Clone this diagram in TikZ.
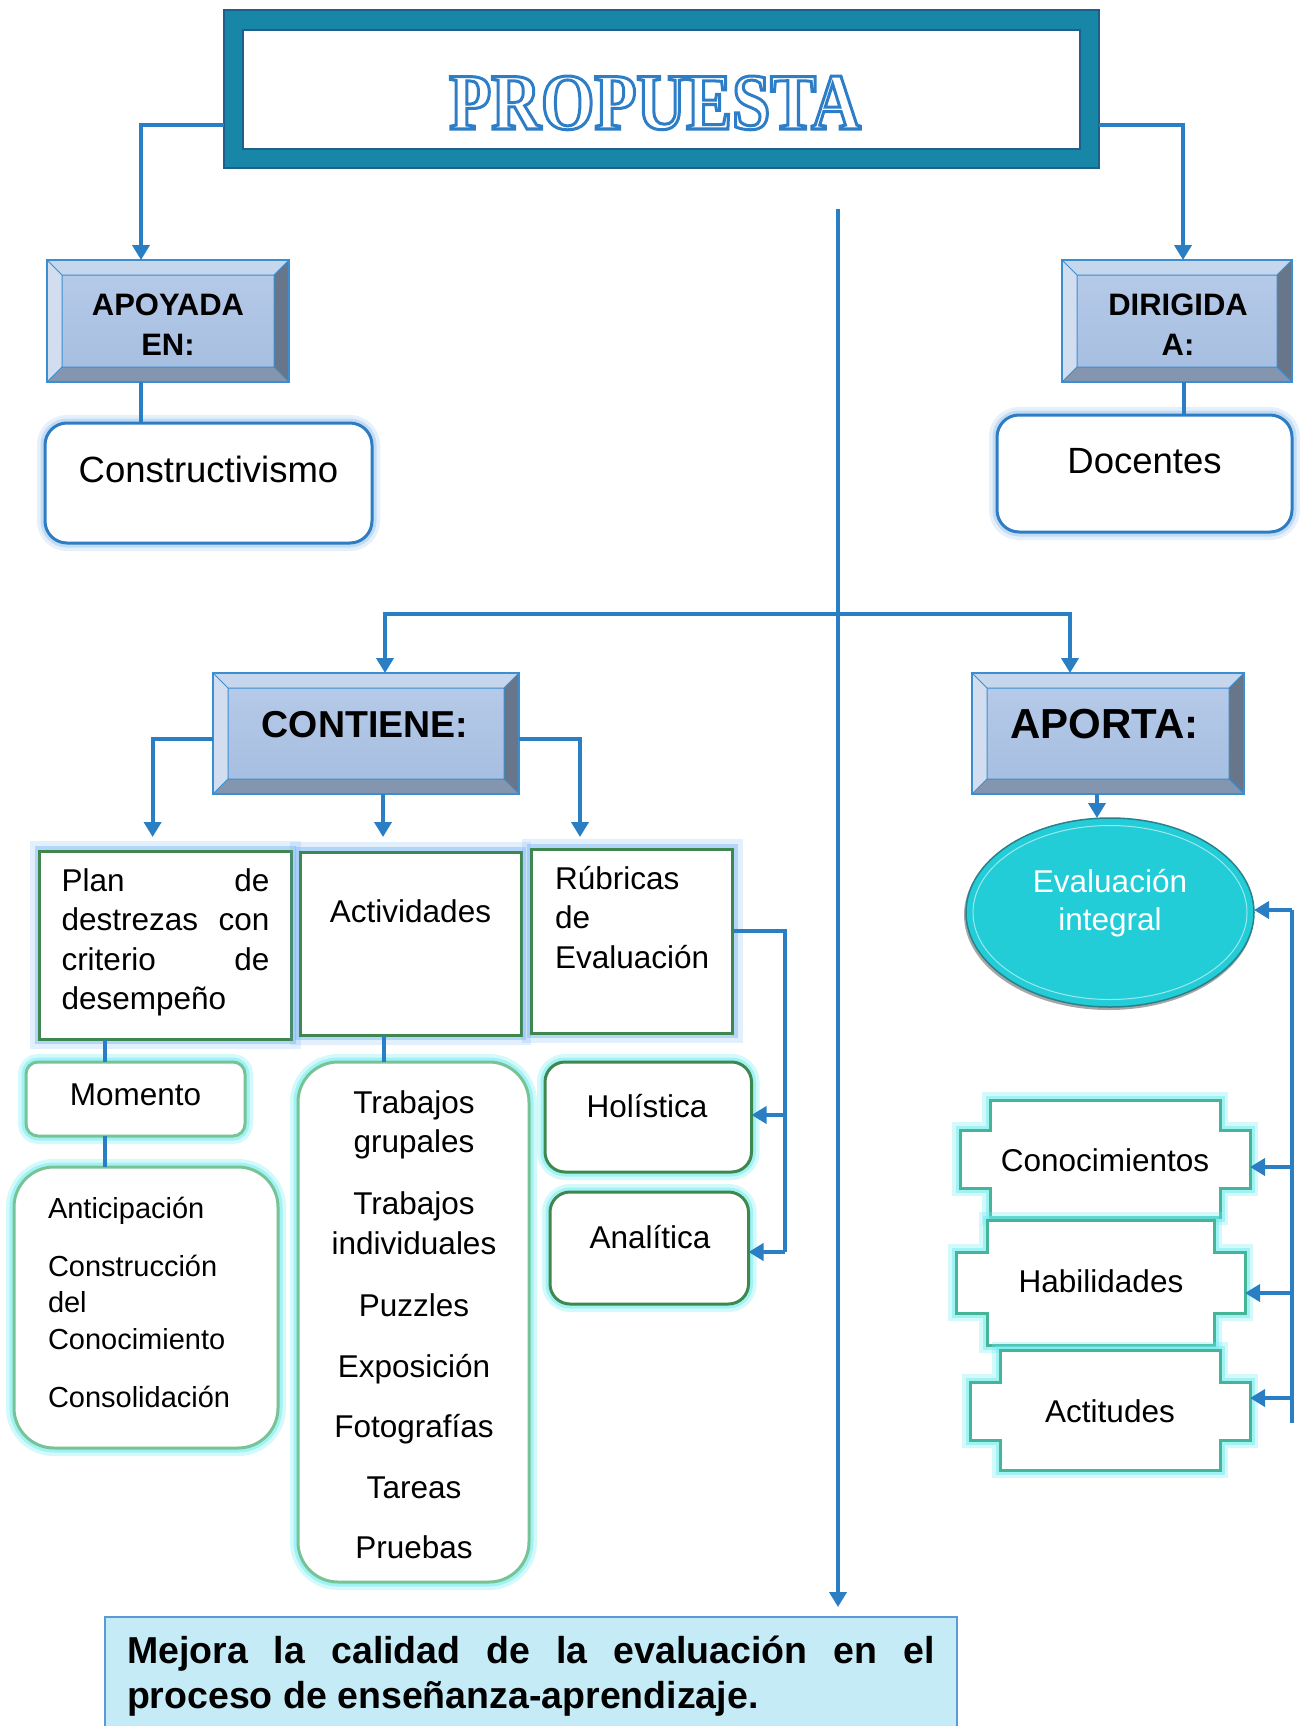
\documentclass[tikz,border=0pt]{standalone}
\usepackage{fontspec}
\setmainfont{Liberation Sans}
\newfontfamily\titlefont{Liberation Serif}[FakeStretch=0.86]
\usetikzlibrary{arrows.meta,shapes.geometric,calc}

\definecolor{cline}{RGB}{42,126,196}
\definecolor{ttlfill}{RGB}{24,134,166}
\definecolor{ttlbd}{RGB}{30,95,140}
\definecolor{bevline}{RGB}{59,142,208}
\definecolor{bevtopc}{RGB}{184,203,233}
\definecolor{bevbotc}{RGB}{164,189,224}
\definecolor{bevT}{RGB}{198,214,237}
\definecolor{bevL}{RGB}{210,222,240}
\definecolor{bevR}{RGB}{104,118,140}
\definecolor{bevB}{RGB}{132,149,176}
\definecolor{rbd}{RGB}{46,125,196}
\definecolor{bglow}{RGB}{150,195,235}
\definecolor{gbd}{RGB}{62,135,78}
\definecolor{bglowb}{RGB}{110,175,245}
\definecolor{tbd}{RGB}{120,195,150}
\definecolor{cglow}{RGB}{110,235,240}
\definecolor{plqbd}{RGB}{70,180,150}
\definecolor{ellfill}{RGB}{35,205,215}
\definecolor{ellbd}{RGB}{40,130,140}
\definecolor{botfill}{RGB}{197,235,246}
\definecolor{botbd}{RGB}{91,155,213}

\newcommand\fbody{\fontsize{31.5}{38}\selectfont}
\newcommand\fsmall{\fontsize{29}{35}\selectfont}
\newcommand\fbig{\fontsize{36.5}{44}\selectfont}
\newcommand\R[6]{\node[#1, minimum width=#5pt, minimum height=#6pt] (#2) at (#3,#4) {};}
\newcommand\outlinetext[1]{\special{pdf:literal direct 0.18 0.49 0.78 RG 2 Tr 3 w}#1\special{pdf:literal direct 0 Tr}}

\tikzset{
  every node/.style={inner sep=0pt, outer sep=0pt},
  txt/.style={anchor=base},
  conn/.style={draw=cline, line width=4pt},
  arr/.style={conn, -{Triangle[length=15pt,width=17pt]}},
  bevel/.style={draw=bevline, line width=1.3pt, top color=bevtopc, bottom color=bevbotc,
    path picture={
      \coordinate (pNW) at (path picture bounding box.north west);
      \coordinate (pNE) at (path picture bounding box.north east);
      \coordinate (pSE) at (path picture bounding box.south east);
      \coordinate (pSW) at (path picture bounding box.south west);
      \coordinate (qNW) at ([xshift=15pt,yshift=-15pt]pNW);
      \coordinate (qNE) at ([xshift=-15pt,yshift=-15pt]pNE);
      \coordinate (qSE) at ([xshift=-15pt,yshift=15pt]pSE);
      \coordinate (qSW) at ([xshift=15pt,yshift=15pt]pSW);
      \fill[fill=bevT] (pNW) -- (pNE) -- (qNE) -- (qNW) -- cycle;
      \fill[fill=bevL] (pNW) -- (qNW) -- (qSW) -- (pSW) -- cycle;
      \fill[fill=bevR] (pNE) -- (pSE) -- (qSE) -- (qNE) -- cycle;
      \fill[fill=bevB] (pSW) -- (qSW) -- (qSE) -- (pSE) -- cycle;
      \draw[bevline, line width=1pt] (qNW) rectangle (qSE) (pNW) -- (qNW) (pNE) -- (qNE) (pSE) -- (qSE) (pSW) -- (qSW);
    }},
  bluebox/.style={draw=rbd, fill=white, line width=3pt, rounded corners=22pt,
    preaction={draw=bglow, line width=16pt, opacity=.25},
    preaction={draw=bglow, line width=9pt, opacity=.45}},
  greenbox/.style={draw=gbd, fill=white, line width=3pt,
    preaction={draw=bglowb, line width=20pt, opacity=.2},
    preaction={draw=bglowb, line width=10pt, opacity=.4}},
  tealbox/.style={draw=#1, fill=white, line width=3pt,
    preaction={draw=cglow, line width=16pt, opacity=.3},
    preaction={draw=cglow, line width=9pt, opacity=.5}},
  plaque/.style={draw=plqbd, fill=white, line width=3pt,
    preaction={draw=cglow, line width=16pt, opacity=.3},
    preaction={draw=cglow, line width=9pt, opacity=.5}},
}

\begin{document}
\begin{tikzpicture}[x=1pt,y=-1pt]
\useasboundingbox (0,0) rectangle (1300,1726);

% ---------- title ----------
\R{draw=ttlbd, fill=ttlfill, line width=2pt}{ttl}{661.5}{89}{875}{158}
\R{draw=ttlbd, fill=white, line width=2pt}{ttlin}{661.5}{89.5}{837}{119}
\node[txt, text=white] (tt) at (655,129) {\titlefont\bfseries\fontsize{80}{80}\selectfont\outlinetext{PROPUESTA}};

% ---------- bevel boxes ----------
\R{bevel}{apo}{168}{321}{242}{122}
\node[txt] (apo1) at (168,315) {\bfseries\fontsize{31}{37}\selectfont APOYADA};
\node[txt] (apo2) at (168,355) {\bfseries\fontsize{31}{37}\selectfont EN:};
\R{bevel}{dir}{1177}{321}{230}{122}
\node[txt] (dir1) at (1178,315) {\bfseries\fontsize{31}{37}\selectfont DIRIGIDA};
\node[txt] (dir2) at (1178,355) {\bfseries\fontsize{31}{37}\selectfont A:};
\R{bevel}{con}{366}{733.5}{306}{121}
\node[txt] (con1) at (365,737) {\bfseries\fontsize{37.5}{44}\selectfont CONTIENE:};
\R{bevel}{apt}{1108}{733.5}{272}{121}
\node[txt] (apt1) at (1104.5,738) {\bfseries\fontsize{42}{48}\selectfont APORTA:};

% ---------- rounded blue boxes ----------
\R{bluebox}{cons}{208.5}{483}{327}{120}
\node[txt] (cons1) at (208.5,482) {\fbig Constructivismo};
\R{bluebox}{doc}{1144.5}{473.5}{295}{117}
\node[txt] (doc1) at (1144.5,473) {\fbig Docentes};

% ---------- green boxes ----------
\R{greenbox}{plan}{165.25}{945}{251.5}{188}
\R{greenbox}{act}{410.5}{943.5}{221}{183}
\R{greenbox}{rub}{632}{941}{201}{184}
\node[txt, anchor=base west] (pl1) at (61.5,891) {\fbody\makebox[208pt][s]{Plan de}};
\node[txt, anchor=base west] (pl2) at (61.5,930.5) {\fbody\makebox[208pt][s]{destrezas con}};
\node[txt, anchor=base west] (pl3) at (61.5,970) {\fbody\makebox[208pt][s]{criterio de}};
\node[txt, anchor=base west] (pl4) at (61.5,1009.5) {\fbody desempeño};
\node[txt] (act1) at (410.5,922) {\fbody Actividades};
\node[txt, anchor=base west] (rb1) at (555,889) {\fbody Rúbricas};
\node[txt, anchor=base west] (rb2) at (555,928.5) {\fbody de};
\node[txt, anchor=base west] (rb3) at (555,968) {\fbody Evaluación};

% ---------- teal boxes ----------
\R{tealbox=tbd, rounded corners=12pt}{mom}{135.5}{1099}{219}{74}
\node[txt] (mom1) at (135.5,1105) {\fbody Momento};
\R{tealbox=tbd, rounded corners=40pt}{ant}{146}{1307.5}{264}{281}
\foreach \t/\yy [count=\i] in {Anticipación/1218, Construcción/1276, del/1312, Conocimiento/1349, Consolidación/1407}{
  \node[txt, anchor=base west] (an\i) at (48,\yy) {\fsmall \t};
}
\R{tealbox=tbd, rounded corners=40pt}{trab}{413.5}{1322}{231}{520}
\foreach \t/\yy [count=\i] in {Trabajos/1113, grupales/1152, Trabajos/1214, individuales/1254, Puzzles/1316, Exposición/1377, Fotografías/1437, Tareas/1498, Pruebas/1558}{
  \node[txt] (tr\i) at (414,\yy) {\fbody \t};
}
\R{tealbox=gbd, rounded corners=20pt}{hol}{648.25}{1117}{206.5}{110}
\node[txt] (hol1) at (647,1117) {\fbody Holística};
\R{tealbox=gbd, rounded corners=20pt}{ana}{649.25}{1248}{198.5}{112}
\node[txt] (ana1) at (650,1248) {\fbody Analítica};

% ---------- ellipse ----------
\fill[black, opacity=.35] (1109,915) ellipse [x radius=145pt, y radius=95pt];
\node[ellipse, fill=ellfill, draw=ellbd, line width=1.5pt, minimum width=288pt, minimum height=189pt] (eval) at (1110,912.5) {};
\draw[white!55!ellfill, line width=1pt] (eval.center) ellipse [x radius=137pt, y radius=87pt];
\node[txt, text=white] (ev1) at (1110,892) {\fbody Evaluación};
\node[txt, text=white] (ev2) at (1110,930) {\fbody integral};

% ---------- plaques ----------
\draw[plaque] (990,1100) -- (1220,1100) -- (1220,1130) -- (1250,1130) -- (1250,1188) -- (1220,1188) -- (1220,1217) -- (990,1217) -- (990,1188) -- (960,1188) -- (960,1130) -- (990,1130) -- cycle;
\node[txt] (cono) at (1105,1171) {\fbody Conocimientos};
\draw[plaque] (987,1220) -- (1214,1220) -- (1214,1252) -- (1245,1252) -- (1245,1313) -- (1214,1313) -- (1214,1345) -- (987,1345) -- (987,1313) -- (956,1313) -- (956,1252) -- (987,1252) -- cycle;
\node[txt] (habi) at (1101,1292) {\fbody Habilidades};
\draw[plaque] (1000,1350) -- (1220,1350) -- (1220,1382) -- (1250,1382) -- (1250,1440) -- (1220,1440) -- (1220,1470) -- (1000,1470) -- (1000,1440) -- (970,1440) -- (970,1382) -- (1000,1382) -- cycle;
\node[txt] (acti) at (1110,1422) {\fbody Actitudes};
\coordinate (conoE) at (1250,1167);
\coordinate (habiE) at (1245,1293);
\coordinate (actiE) at (1250,1398);

% ---------- bottom box ----------
\R{draw=botbd, fill=botfill, line width=2pt}{bot}{531}{1678.5}{852}{123}
\node[txt, anchor=base west] (bt1) at (127,1663) {\bfseries\fontsize{37.5}{45}\selectfont\makebox[808pt][s]{Mejora la calidad de la evaluación en el}};
\node[txt, anchor=base west] (bt2) at (127,1708) {\bfseries\fontsize{37.5}{45}\selectfont proceso de enseñanza-aprendizaje.};

% ---------- connectors ----------
\draw[arr] ([yshift=-36pt]ttl.west) -| ([xshift=-27pt]apo.north);
\draw[arr] ([yshift=-36pt]ttl.east) -| ([xshift=6pt]dir.north);
\draw[conn] ([xshift=-27pt]apo.south) -- ([xshift=-27pt]apo.south |- cons.north);
\draw[conn] ([xshift=7pt]dir.south) -- ([xshift=7pt]dir.south |- doc.north);

\coordinate (ctop) at (838,209);
\coordinate (br) at (838,614);
\draw[arr, shorten >=10pt] (ctop) -- (ctop |- bot.north);
\draw[arr] (br) -| ([xshift=19pt]con.north);
\draw[arr] (br) -| ([xshift=-38pt]apt.north);

\draw[arr, shorten >=14pt] ([yshift=-5.5pt]con.west) -| ([xshift=-12.65pt]plan.north);
\draw[arr, shorten >=15pt] ([xshift=17pt]con.south) -- ([xshift=17pt]con.south |- act.north);
\draw[arr, shorten >=12pt] ([yshift=-5.5pt]con.east) -| ([xshift=-52pt]rub.north);

\draw[conn] ([xshift=-60.25pt]plan.south) -- ([xshift=-60.25pt]plan.south |- mom.north);
\draw[conn] ([xshift=-30.5pt]mom.south) -- ([xshift=-30.5pt]mom.south |- ant.north);
\draw[conn] ([xshift=-26.5pt]act.south) -- ([xshift=-26.5pt]act.south |- trab.north);

\coordinate (rh) at (785,1115);
\coordinate (ra) at (785,1252);
\draw[conn] ([yshift=10pt]rub.east) -| (ra);
\draw[arr] (rh) -- (rh -| hol.east);
\draw[arr] (ra) -- (ra -| ana.east);

\draw[arr] ([xshift=-11pt]apt.south) -- ([xshift=-11pt]apt.south |- eval.north);

\coordinate (v1) at (1292,910);
\coordinate (v2) at (1292,1423);
\draw[conn] (v1) -- (v2);
\draw[arr] (v1) -- (v1 -| eval.east);
\draw[arr] (v1 |- conoE) -- (conoE);
\draw[arr] (v1 |- habiE) -- (habiE);
\draw[arr] (v1 |- actiE) -- (actiE);
\end{tikzpicture}
\end{document}
